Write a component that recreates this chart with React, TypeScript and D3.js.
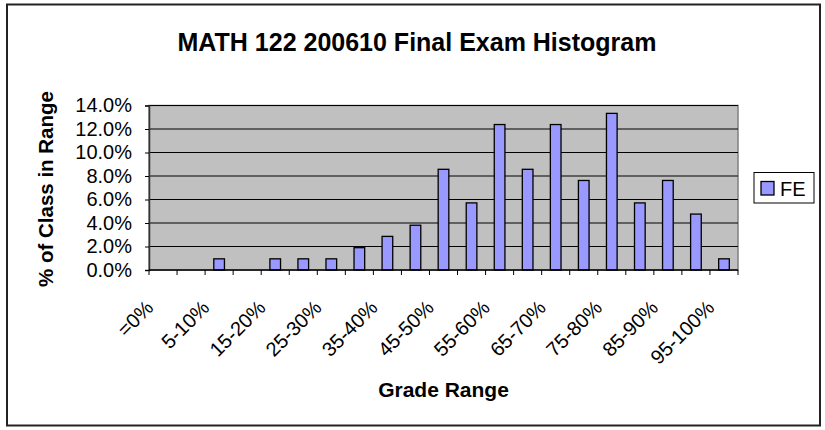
import React, { useRef, useEffect } from 'react';
import * as d3 from 'd3';

// grade ranges (one bar each)
const categories = [
  '=0%', '0-5%', '5-10%', '10-15%', '15-20%', '20-25%', '25-30%', '30-35%',
  '35-40%', '40-45%', '45-50%', '50-55%', '55-60%', '60-65%', '65-70%',
  '70-75%', '75-80%', '80-85%', '85-90%', '90-95%', '95-100%',
];

// % of class in each range (series "FE")
const feValues = [
  0, 0, 0.95, 0, 0.95, 0.95, 0.95, 1.9, 2.86, 3.81, 8.57, 5.71, 12.38,
  8.57, 12.38, 7.62, 13.33, 5.71, 7.62, 4.76, 0.95,
];

// only every other category gets a label
const shownLabels = [
  '=0%', '5-10%', '15-20%', '25-30%', '35-40%', '45-50%', '55-60%',
  '65-70%', '75-80%', '85-90%', '95-100%',
];

const yTicks = [0, 2, 4, 6, 8, 10, 12, 14];

const FONT = "'Liberation Sans', Arial, sans-serif";

const App = () => {
  const svgRef = useRef<SVGSVGElement | null>(null);
  const width = 825;
  const height = 430;

  useEffect(() => {
    const margin = { top: 105.5, right: 87, bottom: 160, left: 149 };
    const plotW = width - margin.left - margin.right;
    const plotH = height - margin.top - margin.bottom;

    const root = d3.select(svgRef.current);
    root.selectAll('*').remove();

    // outer chart frame
    root.append('rect')
      .attr('x', 7).attr('y', 4.5)
      .attr('width', 813).attr('height', 421)
      .attr('fill', '#fff')
      .attr('stroke', '#222')
      .attr('stroke-width', 2);

    // title
    root.append('text')
      .attr('x', 417).attr('y', 50.5)
      .attr('text-anchor', 'middle')
      .attr('font-family', FONT)
      .attr('font-weight', 'bold')
      .attr('font-size', 25)
      .text('MATH 122 200610 Final Exam Histogram');

    const svg = root.append('g')
      .attr('transform', `translate(${margin.left}, ${margin.top})`);

    const x = d3.scaleBand<string>()
      .domain(categories)
      .range([0, plotW])
      .padding(0);

    const y = d3.scaleLinear()
      .domain([0, 14])
      .range([plotH, 0]);

    // plot background
    svg.append('rect')
      .attr('width', plotW)
      .attr('height', plotH)
      .attr('fill', '#c0c0c0')
      .attr('stroke', '#808080')
      .attr('stroke-width', 1.5);

    // gridlines
    svg.selectAll('.grid')
      .data(yTicks.filter(t => t > 0))
      .enter()
      .append('line')
      .attr('class', 'grid')
      .attr('x1', 0).attr('x2', plotW)
      .attr('y1', d => y(d)).attr('y2', d => y(d))
      .attr('stroke', '#000')
      .attr('stroke-width', 1);

    // bars (empty ranges draw nothing)
    const barW = x.bandwidth() * 0.38;
    const rows = categories.map((c, i) => ({ c, v: feValues[i] })).filter(d => d.v > 0);
    svg.selectAll('.bar')
      .data(rows)
      .enter()
      .append('rect')
      .attr('class', 'bar')
      .attr('x', d => (x(d.c) as number) + (x.bandwidth() - barW) / 2)
      .attr('y', d => y(d.v))
      .attr('width', barW)
      .attr('height', d => plotH - y(d.v))
      .attr('fill', '#9999ff')
      .attr('stroke', '#000')
      .attr('stroke-width', 1.3);

    // y axis
    const yAxis = svg.append('g')
      .call(d3.axisLeft(y).tickValues(yTicks).tickSize(4).tickFormat(d => `${(+d).toFixed(1)}%`));
    yAxis.select('.domain').attr('stroke', '#333').attr('stroke-width', 1.5);
    yAxis.selectAll('.tick line').attr('stroke', '#000');
    yAxis.selectAll('.tick text')
      .attr('x', -17)
      .attr('font-family', FONT)
      .attr('font-size', 20)
      .attr('fill', '#000');

    // x axis: ticks at category boundaries
    const bounds = d3.range(categories.length + 1).map(i => i * x.step());
    svg.append('line')
      .attr('x1', 0).attr('x2', plotW)
      .attr('y1', plotH).attr('y2', plotH)
      .attr('stroke', '#000').attr('stroke-width', 1.5);
    svg.selectAll('.xtick')
      .data(bounds)
      .enter()
      .append('line')
      .attr('class', 'xtick')
      .attr('x1', d => d).attr('x2', d => d)
      .attr('y1', plotH).attr('y2', plotH + 5)
      .attr('stroke', '#000');

    svg.selectAll('.xlabel')
      .data(shownLabels)
      .enter()
      .append('text')
      .attr('class', 'xlabel')
      .attr('transform', d => {
        const cx = (x(d) as number) + x.bandwidth() / 2 - 8.5;
        return `translate(${cx}, ${plotH + 39}) rotate(-45)`;
      })
      .attr('text-anchor', 'end')
      .attr('font-family', FONT)
      .attr('font-size', 20)
      .text(d => d);

    // axis titles
    root.append('text')
      .attr('x', margin.left + plotW / 2)
      .attr('y', 396.5)
      .attr('text-anchor', 'middle')
      .attr('font-family', FONT)
      .attr('font-weight', 'bold')
      .attr('font-size', 21)
      .text('Grade Range');

    root.append('text')
      .attr('transform', `translate(53, 189) rotate(-90)`)
      .attr('text-anchor', 'middle')
      .attr('font-family', FONT)
      .attr('font-weight', 'bold')
      .attr('font-size', 20.5)
      .text('% of Class in Range');

    // legend
    const legend = root.append('g').attr('transform', 'translate(754, 172.5)');
    legend.append('rect')
      .attr('width', 60).attr('height', 30.5)
      .attr('fill', '#fff')
      .attr('stroke', '#000');
    legend.append('rect')
      .attr('x', 7).attr('y', 9)
      .attr('width', 13).attr('height', 13.5)
      .attr('fill', '#9999ff')
      .attr('stroke', '#000')
      .attr('stroke-width', 1.3);
    legend.append('text')
      .attr('x', 26).attr('y', 23.5)
      .attr('font-family', FONT)
      .attr('font-size', 20)
      .text('FE');
  }, []);

  return (
    <svg
      ref={svgRef}
      width={width}
      height={height}
      style={{ position: 'absolute', left: 0, top: 0, background: '#fff' }}
    />
  );
};

export default App;
